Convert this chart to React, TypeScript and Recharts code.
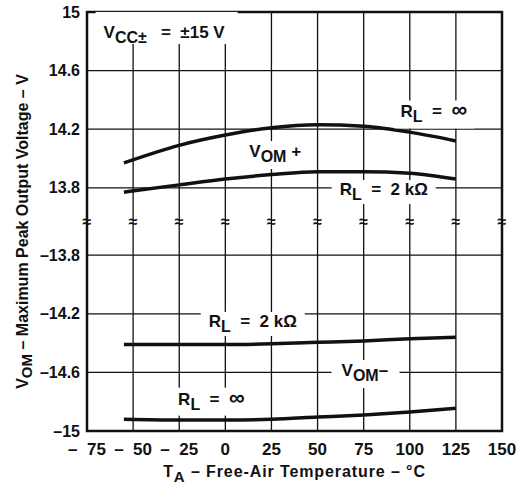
import React from "react";
import {
  LineChart,
  Line,
  XAxis,
  YAxis,
  CartesianGrid,
  ReferenceArea,
  ReferenceDot,
  Label,
} from "recharts";

const TEMPS = [-55, -25, 0, 25, 50, 75, 100, 125];
const POS_INF = [13.97, 14.09, 14.16, 14.21, 14.23, 14.22, 14.18, 14.12];
const POS_2K = [13.77, 13.82, 13.86, 13.89, 13.91, 13.91, 13.9, 13.86];
const NEG_2K = [-14.41, -14.41, -14.41, -14.405, -14.395, -14.385, -14.37, -14.36];
const NEG_INF = [-14.92, -14.925, -14.925, -14.92, -14.905, -14.89, -14.87, -14.845];

const X_TICKS = [-75, -50, -25, 0, 25, 50, 75, 100, 125, 150];
const Y_TICKS = [-15, -14.6, -14.2, -13.8, 13.8, 14.2, 14.6, 15];

// broken axis: -15..-13.8 below, 13.8..15 above, a short gap between
const GAP = 0.46;
const toY = (v: number) => (v > 0 ? v - 13.8 + 1.2 + GAP : v + 15);
const BREAK_Y = 1.2 + GAP / 2;

const SANS = "'Liberation Sans', Arial, Helvetica, sans-serif";
const NARROW = "'Liberation Sans Narrow', 'Liberation Sans', Arial, sans-serif";
const NB = "\u00A0";

const makeSeries = (vals: number[]) =>
  TEMPS.map((t, i) => ({ t, v: toY(vals[i]) }));

type Ann = {
  x: number;
  y: number;
  main: string;
  sub: string;
  rest: string;
  inf?: boolean;
  bg: [number, number, number, number]; // dx, dy, w, h from the text anchor
};

const ANNOTATIONS: Ann[] = [
  { x: -66, y: 2.683, main: "V", sub: "CC±", rest: `${NB}${NB}${NB}=${NB}${NB}±15${NB}V`, bg: [-8, -26, 142, 32] },
  { x: 95, y: 2.14, main: "R", sub: "L", rest: `${NB}${NB}=${NB}${NB}`, inf: true, bg: [-6, -17, 80, 28] },
  { x: 13, y: 1.87, main: "V", sub: "OM", rest: `${NB}+`, bg: [-6, -16, 62, 28] },
  { x: 62, y: 1.61, main: "R", sub: "L", rest: `${NB}${NB}=${NB}${NB}2${NB}kΩ`, bg: [-8, -15, 104, 24] },
  { x: -9, y: 0.71, main: "R", sub: "L", rest: `${NB}${NB}=${NB}${NB}2${NB}kΩ`, bg: [-8, -15, 104, 24] },
  { x: 63, y: 0.375, main: "V", sub: "OM", rest: "–", bg: [-10, -16, 68, 28] },
  { x: -25.6, y: 0.18, main: "R", sub: "L", rest: `${NB}${NB}=${NB}${NB}`, inf: true, bg: [-6, -17, 80, 28] },
];

function AnnShape(a: Ann) {
  return (props: any) => {
    const { cx, cy } = props;
    return (
      <g>
        <rect x={cx + a.bg[0]} y={cy + a.bg[1]} width={a.bg[2]} height={a.bg[3]} fill="#fff" />
        <text x={cx} y={cy} fontFamily={SANS} fontWeight="bold" fontSize={17} fill="#111">
          <tspan>{a.main}</tspan>
          <tspan dy={5} fontSize={16}>{a.sub}</tspan>
          <tspan dy={-5}>{a.rest}</tspan>
          {a.inf && <tspan fontSize={22}>∞</tspan>}
        </text>
      </g>
    );
  };
}

function BreakMark(props: any) {
  const { cx, cy } = props;
  return (
    <text x={cx} y={cy + 5} textAnchor="middle" fontFamily={SANS} fontWeight="bold" fontSize={16} fill="#111">
      ≈
    </text>
  );
}

function YTitle(props: any) {
  const vb = props.viewBox;
  const cx = 22;
  const cy = vb.y + vb.height / 2 + 10;
  return (
    <text
      x={cx}
      y={cy}
      transform={`rotate(-90 ${cx} ${cy})`}
      textAnchor="middle"
      dominantBaseline="central"
      fontFamily={NARROW}
      fontWeight="bold"
      fontSize={16}
      fill="#111"
    >
      <tspan>V</tspan>
      <tspan dy={4} fontSize={15}>OM</tspan>
      <tspan dy={-4}>{" – Maximum Peak Output Voltage – V"}</tspan>
    </text>
  );
}

function XTitle(props: any) {
  const vb = props.viewBox;
  const cx = vb.x + vb.width / 2;
  return (
    <text
      x={cx}
      y={477}
      textAnchor="middle"
      fontFamily={SANS}
      fontWeight="bold"
      fontSize={16}
      letterSpacing={0.9}
      fill="#111"
    >
      <tspan>T</tspan>
      <tspan dy={5} fontSize={15}>A</tspan>
      <tspan dy={-5}>{`${NB}–${NB}Free-Air Temperature${NB}–${NB}°C`}</tspan>
    </text>
  );
}

export default function App() {
  const xTick = { fill: "#111", fontSize: 17, fontWeight: "bold", fontFamily: SANS };
  const yTick = { fill: "#111", fontSize: 16, fontWeight: "bold", fontFamily: SANS };
  const yTickVals = Y_TICKS.map(toY);
  return (
    <div style={{ position: "absolute", left: 0, top: 0, background: "#fff" }}>
      <LineChart
        width={529}
        height={488}
        margin={{ top: 12, right: 27, bottom: 27, left: 27 }}
      >
        <CartesianGrid stroke="#111" strokeWidth={1.3} />
        <XAxis
          type="number"
          dataKey="t"
          domain={[-75, 150]}
          ticks={X_TICKS}
          tickFormatter={(v: number) => (v < 0 ? `–${NB}${NB}${Math.abs(v)}` : `${v}`)}
          interval={0}
          height={30}
          axisLine={false}
          tickLine={false}
          tickMargin={6}
          tick={xTick}
        >
          <Label content={XTitle} />
        </XAxis>
        <YAxis
          type="number"
          domain={[0, toY(15)]}
          ticks={yTickVals}
          tickFormatter={(v: number) => {
            const i = yTickVals.findIndex((t) => Math.abs(t - v) < 1e-6);
            if (i < 0) return "";
            const r = Y_TICKS[i];
            return r < 0 ? `–${Math.abs(r)}` : `${r}`;
          }}
          interval={0}
          width={60}
          axisLine={false}
          tickLine={false}
          tickMargin={1}
          tick={yTick}
        >
          <Label content={YTitle} />
        </YAxis>
        {ANNOTATIONS.map((a, i) => (
          <ReferenceDot key={`a${i}`} x={a.x} y={a.y} r={0} shape={AnnShape(a)} ifOverflow="visible" />
        ))}
        {X_TICKS.map((t) => (
          <ReferenceDot key={`b${t}`} x={t} y={BREAK_Y} r={0} shape={BreakMark} ifOverflow="visible" />
        ))}
        <ReferenceArea
          x1={-75}
          x2={150}
          y1={0}
          y2={toY(15)}
          fill="none"
          stroke="#111"
          strokeWidth={2.5}
          ifOverflow="visible"
        />
        {[POS_INF, POS_2K, NEG_2K, NEG_INF].map((s, i) => (
          <Line
            key={i}
            data={makeSeries(s)}
            dataKey="v"
            type="monotone"
            stroke="#111"
            strokeWidth={3.5}
            dot={false}
            isAnimationActive={false}
          />
        ))}
      </LineChart>
    </div>
  );
}
